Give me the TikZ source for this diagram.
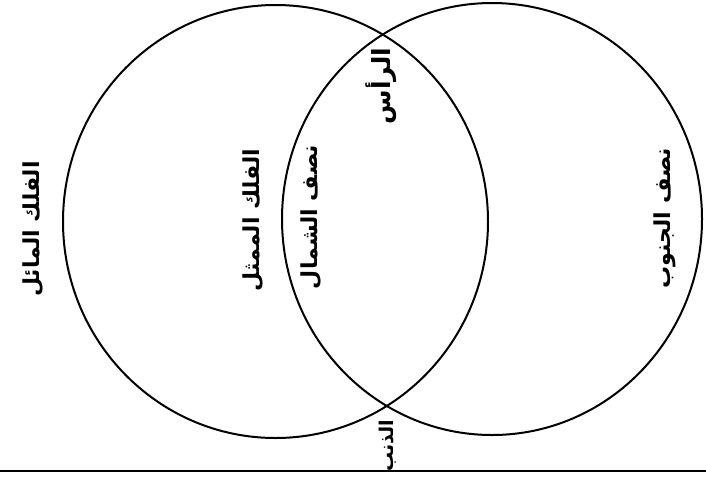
\documentclass[tikz,border=0pt]{standalone}
\usepackage{fontspec}
\newfontfamily\arabicfont[Script=Arabic]{DejaVu Sans}
\TeXXeTstate=1
\usetikzlibrary{shapes.geometric,positioning}

\begin{document}
\begin{tikzpicture}[x=1pt, y=-1pt,
  sphere/.style={ellipse, draw=black, line width=2pt, inner sep=0pt, outer sep=0pt},
  word/.style={rotate=90, inner sep=0pt, font=\arabicfont\bfseries\fontsize{22}{26}\selectfont}
]
\useasboundingbox (0,0) rectangle (706,480);
% the two orbs
\node[sphere, minimum width=425pt, minimum height=433pt] (mail) at (275.5,221.5) {};
\node[sphere, minimum width=420pt, minimum height=432pt] (mumaththil) at (492,219) {};
% ground line
\coordinate (west) at (0,471);
\coordinate (east) at (706,471);
\draw[line width=2pt] (west) -- (east);
% labels
\node[word] (mailtag) at (33,229) {\beginR الفلك المائل\endR};
\node[word] (mumaththiltag) at (253,220) {\beginR الفلك الممثل\endR};
\node[word] (north) at (311,217) {\beginR نصف الشمال\endR};
\node[word] (south) at (665,218) {\beginR نصف الجنوب\endR};
\node[word, font=\arabicfont\bfseries\fontsize{25}{29}\selectfont] (head) at (381,86) {\beginR الرأس\endR};
\node[word, font=\arabicfont\bfseries\fontsize{19}{22}\selectfont] (tail) at (388,446) {\beginR الذنب\endR};
\end{tikzpicture}
\end{document}
